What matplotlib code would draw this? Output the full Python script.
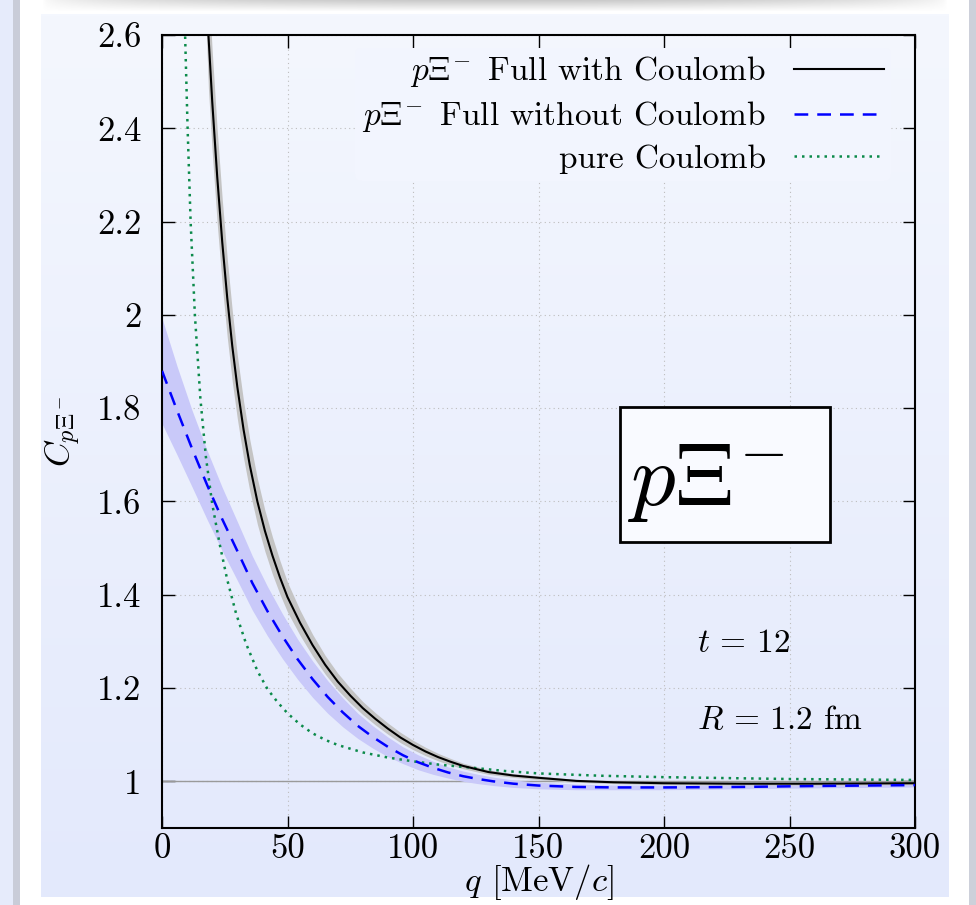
import matplotlib
matplotlib.use('Agg')
import matplotlib.pyplot as plt
import numpy as np
from matplotlib.colors import LinearSegmentedColormap
from matplotlib.patches import Rectangle
from matplotlib.ticker import MultipleLocator, FuncFormatter

# p Xi- full with Coulomb (black solid + grey band)
black_q = [17.5, 18.5, 20, 22, 24, 26, 28, 30, 32.5, 35, 38, 41, 44, 47, 50,
           55, 60, 65, 70, 75, 80, 85, 90, 95, 100, 105, 110, 115, 120, 130,
           140, 150, 165, 180, 200, 230, 260, 300]
black_C = [2.75, 2.6, 2.458, 2.296, 2.156, 2.036, 1.933, 1.846, 1.754, 1.677, 1.6,
           1.537, 1.484, 1.437, 1.395, 1.34, 1.292, 1.25, 1.214, 1.184, 1.157,
           1.134, 1.113, 1.094, 1.078, 1.064, 1.052, 1.042, 1.033, 1.02, 1.0125,
           1.0076, 1.001, 0.998, 0.996, 0.995, 0.995, 0.996]
black_err = [0.12, 0.115, 0.108, 0.1, 0.092, 0.084, 0.076, 0.068, 0.061, 0.055, 0.049,
             0.044, 0.04, 0.036, 0.032, 0.027, 0.023, 0.02, 0.018, 0.016, 0.014,
             0.013, 0.012, 0.011, 0.01, 0.009, 0.008, 0.007, 0.006, 0.005, 0.004,
             0.004, 0.003, 0.003, 0.003, 0.003, 0.003, 0.003]

# p Xi- full without Coulomb (blue dashed + blue band)
blue_q = [0, 6, 12, 18, 24, 30, 36, 42, 48, 54, 60, 66, 72, 78, 84, 90, 96, 102,
          108, 114, 120, 126, 132, 140, 150, 165, 180, 200, 230, 260, 300]
blue_C = [1.88, 1.795, 1.713, 1.635, 1.562, 1.494, 1.425, 1.365, 1.311, 1.262,
          1.219, 1.181, 1.148, 1.119, 1.095, 1.074, 1.056, 1.041, 1.029, 1.019,
          1.011, 1.005, 1.0, 0.995, 0.991, 0.988, 0.987, 0.987, 0.988, 0.99, 0.992]
blue_err = [0.113, 0.095, 0.082, 0.074, 0.068, 0.063, 0.058, 0.053, 0.048, 0.043,
            0.039, 0.035, 0.031, 0.027, 0.024, 0.021, 0.018, 0.016, 0.014, 0.012,
            0.011, 0.01, 0.009, 0.008, 0.007, 0.006, 0.005, 0.005, 0.004, 0.004, 0.004]

# pure Coulomb (green dotted)
green_q = [8.8, 9.2, 10.2, 11.4, 13.1, 15.3, 17.5, 20, 23, 26, 29.5, 33.5, 38, 42,
           46, 50, 55, 60, 65, 70, 80, 90, 100, 110, 124, 137, 150, 175, 200, 250, 300]
green_C = [2.7, 2.6, 2.4, 2.2, 2.0, 1.82, 1.695, 1.595, 1.508, 1.432, 1.36, 1.295,
           1.237, 1.198, 1.17, 1.146, 1.122, 1.103, 1.089, 1.078, 1.062, 1.051,
           1.043, 1.036, 1.029, 1.022, 1.017, 1.012, 1.009, 1.005, 1.003]

labels = [r'$p\Xi^{\!-}$ Full with Coulomb', r'$p\Xi^{\!-}$ Full without Coulomb', 'pure Coulomb']

plt.rcParams['font.family'] = 'serif'
plt.rcParams['font.serif'] = ['cmr10']
plt.rcParams['mathtext.fontset'] = 'cm'
plt.rcParams['axes.unicode_minus'] = False

W, H = 976, 905
fig = plt.figure(figsize=(W / 100, H / 100), dpi=100)
fig.patch.set_facecolor('white')

# slide-like surroundings
fig.patches.append(Rectangle((0, 0), 13 / W, 1, transform=fig.transFigure, fc='#e6ebfb', ec='none'))
fig.patches.append(Rectangle((13 / W, 0), 7 / W, 1, transform=fig.transFigure, fc='#c9ccd8', ec='none'))
fig.patches.append(Rectangle((969 / W, 0), 7 / W, 1, transform=fig.transFigure, fc='#cdd0da', ec='none'))
bg = fig.add_axes([41 / W, 8 / H, 908 / W, 883 / H], zorder=-10)
cmap = LinearSegmentedColormap.from_list('panel', ['#f4f7fe', '#e3e9fc'])
bg.imshow(np.linspace(0, 1, 256).reshape(-1, 1), aspect='auto', cmap=cmap)
bg.axis('off')

# soft grey shadow along the top edge
sh = fig.add_axes([40 / W, 1 - 12 / H, 910 / W, 12 / H], zorder=-9)
shade = np.zeros((12, 200, 4))
shade[..., :3] = 0.62
fade_y = np.linspace(0.55, 0.0, 12)[:, None]
fade_x = np.sin(np.linspace(0, np.pi, 200))[None, :] ** 0.5
shade[..., 3] = fade_y * fade_x
sh.imshow(shade, aspect='auto', interpolation='bilinear')
sh.axis('off')

ax = fig.add_axes([162 / W, 77 / H, 753 / W, 793 / H])
ax.set_facecolor('none')

b_lo = np.array(blue_C) - np.array(blue_err)
b_hi = np.array(blue_C) + np.array(blue_err)
k_lo = np.array(black_C) - np.array(black_err)
k_hi = np.array(black_C) + np.array(black_err)

ax.axhline(1, color='#9a9a9a', lw=1, zorder=1)
ax.fill_between(blue_q, b_lo, b_hi, color='#c9c9f9', lw=0, zorder=2)
ax.fill_between(black_q, k_lo, k_hi, color='#c4c4c4', lw=0, zorder=2)
ax.plot(black_q, black_C, color='black', lw=1.5, zorder=4, label=labels[0])
ax.plot(blue_q, blue_C, color='#0000ff', lw=1.8, dashes=(5.5, 3.6), zorder=4, label=labels[1])
ax.plot(green_q, green_C, color='#0b8a4a', lw=1.8, linestyle=(0, (1, 2)), zorder=3, label=labels[2])

ax.set_xlim(0, 300)
ax.set_ylim(0.9, 2.6)
ax.xaxis.set_major_locator(MultipleLocator(50))
ax.yaxis.set_major_locator(MultipleLocator(0.2))
ax.yaxis.set_major_formatter(FuncFormatter(lambda v, p: '%g' % round(v, 2) if v > 0.95 else ''))
ax.tick_params(direction='in', length=9, width=1, top=True, right=True, labelsize=25)
ax.tick_params(axis='x', pad=4)
ax.tick_params(axis='y', pad=15)
for s in ax.spines.values():
    s.set_linewidth(1.5)
ax.set_axisbelow(True)
ax.grid(True, ls=(0, (1, 3)), color='#bdbdbd', lw=0.8)

ax.set_xlabel(r'$q$ [MeV/$c$]', fontsize=25, labelpad=-2)
ax.set_ylabel(r'$C_{p\Xi^-}$', fontsize=25, labelpad=10)

leg = ax.legend(loc='upper right', bbox_to_anchor=(0.99, 1.005), markerfirst=False, fontsize=24,
                frameon=True, facecolor='#f2f5fe', edgecolor='none', framealpha=1,
                handlelength=2.7, handletextpad=0.85, labelspacing=0.3, borderpad=0.2)
leg.set_zorder(5)

ax.add_patch(Rectangle((0.608, 0.361), 0.279, 0.170, transform=ax.transAxes,
                       fc='#f9faff', ec='black', lw=2, zorder=5))
ax.text(0.722, 0.435, r'$p\Xi^{\!-}$', fontsize=64, ha='center', va='center',
        transform=ax.transAxes, zorder=6)
ax.text(0.7105, 0.233, r'$t\,=\,12$', fontsize=24, va='center', transform=ax.transAxes)
ax.text(0.7105, 0.136, r'$R\,=\,1.2$ fm', fontsize=24, va='center', transform=ax.transAxes)

fig.savefig('out.png', dpi=100)
